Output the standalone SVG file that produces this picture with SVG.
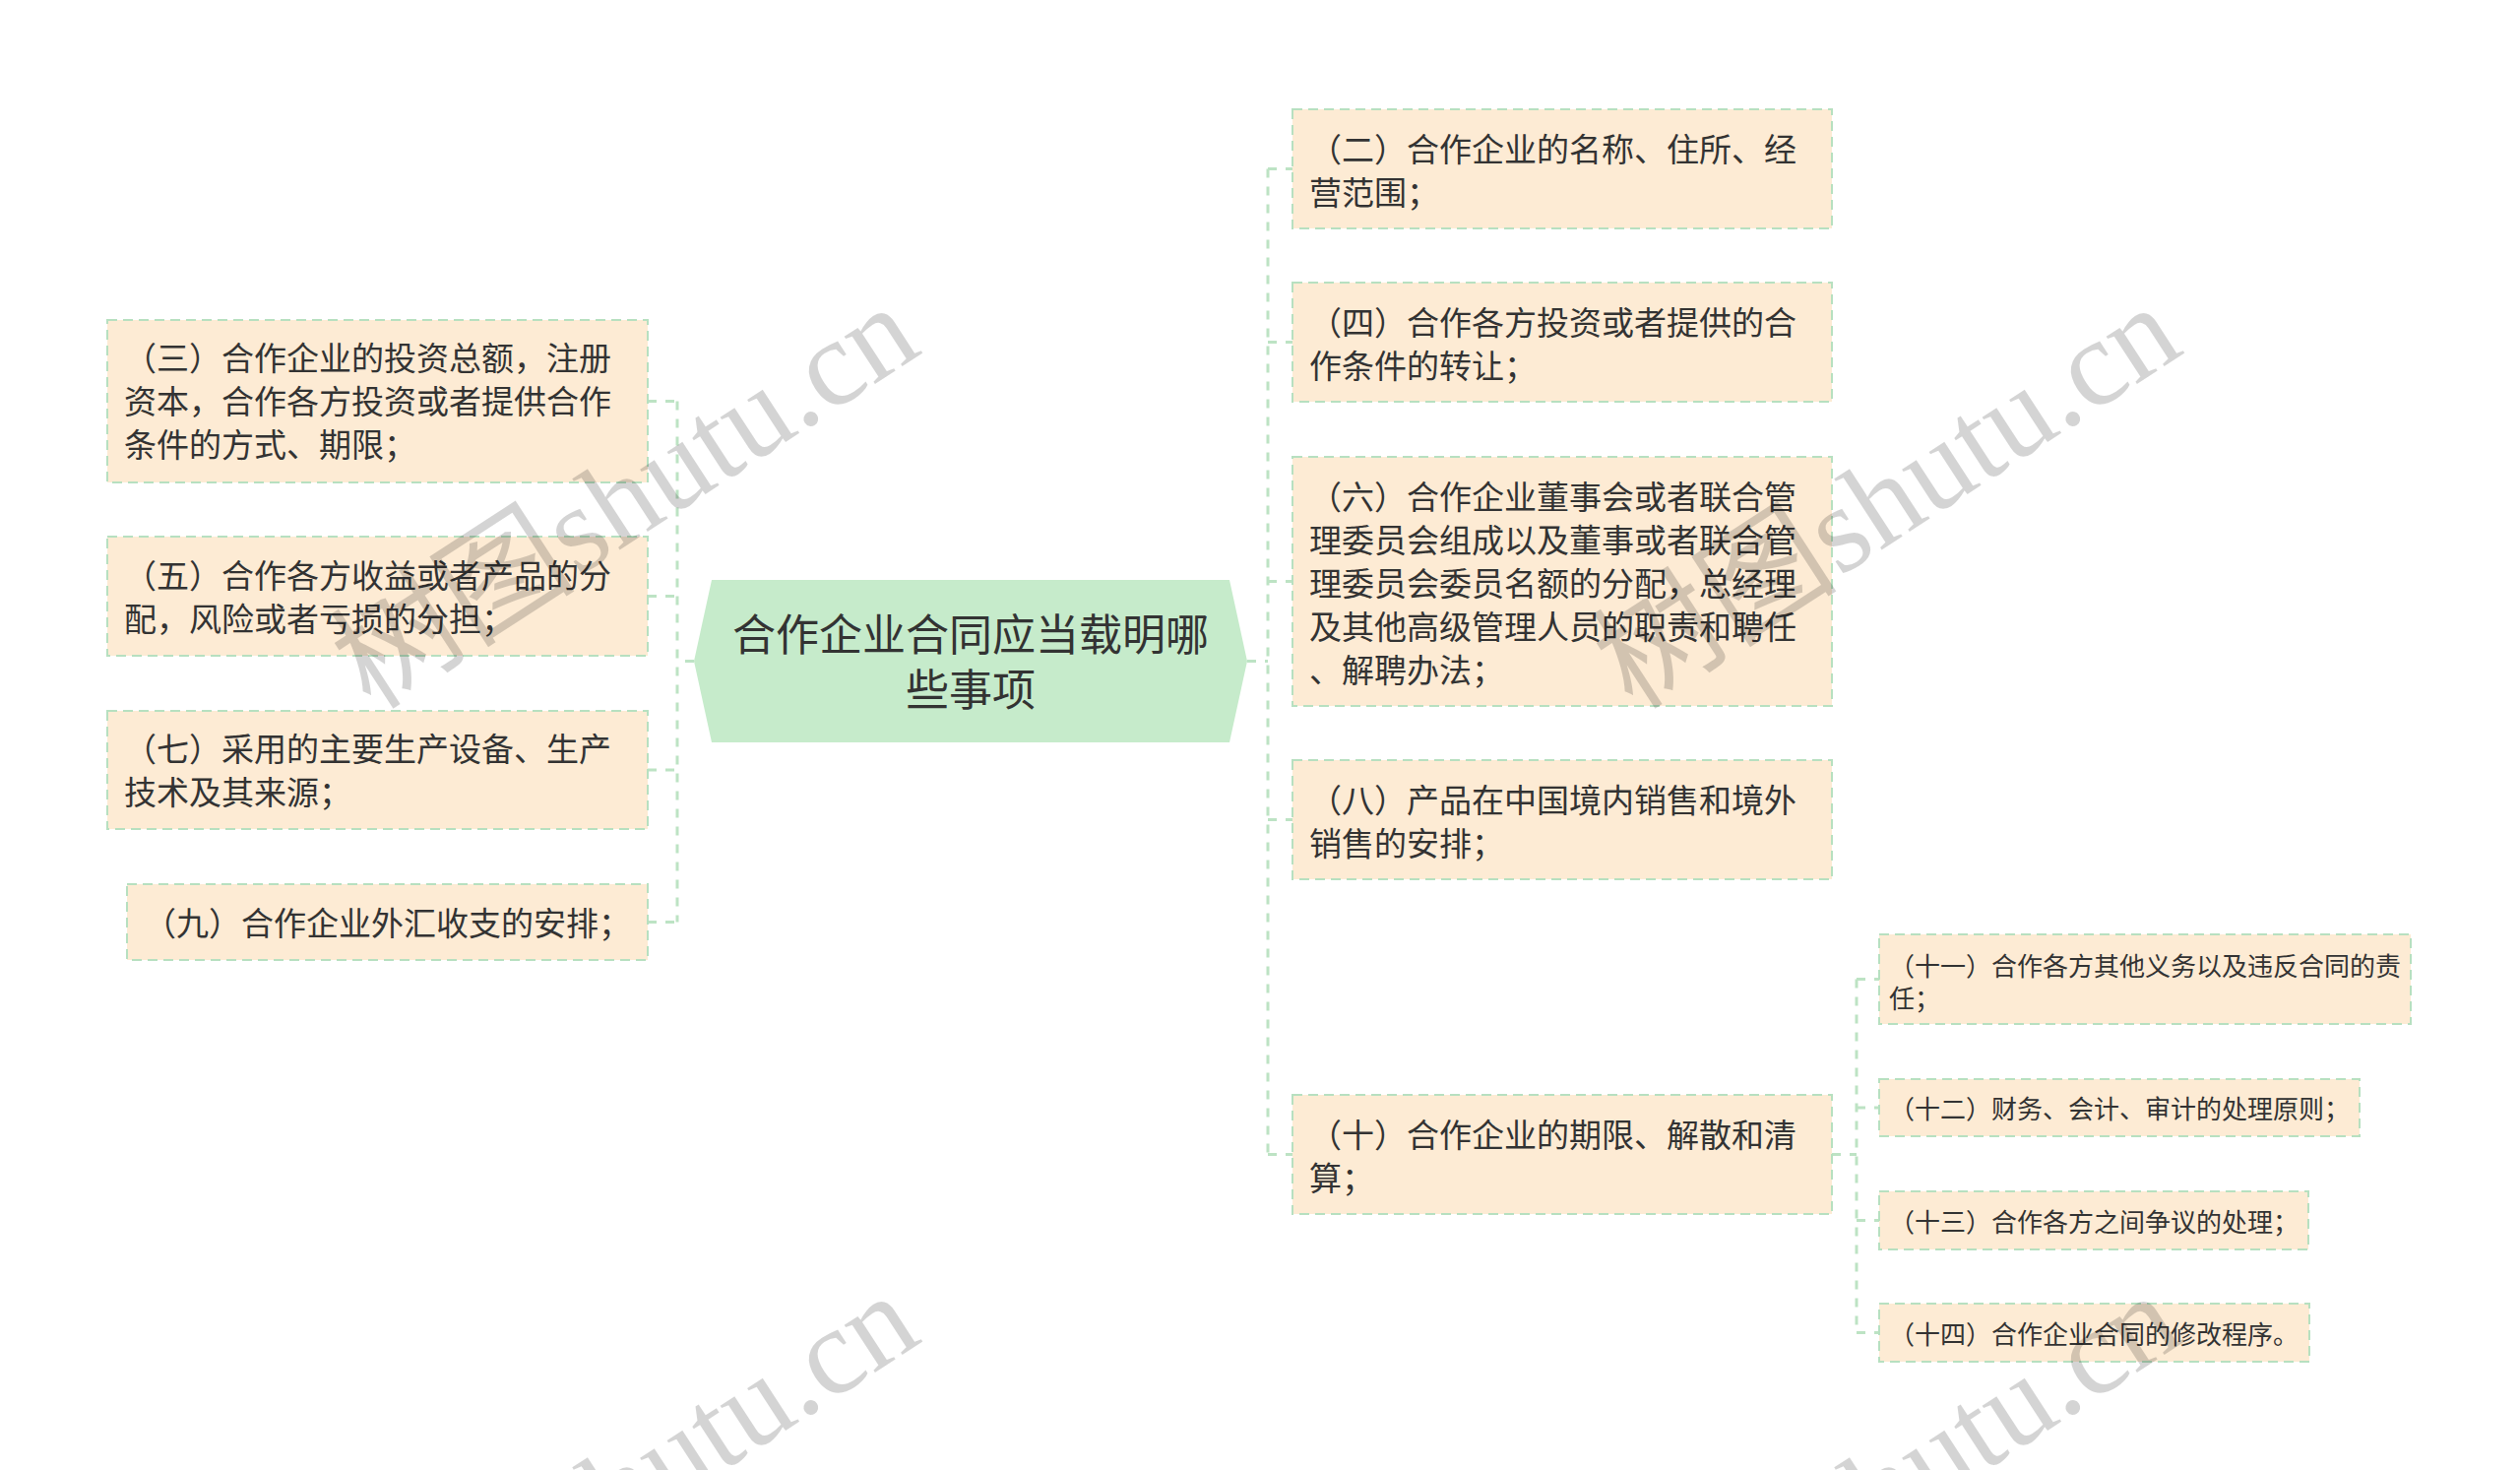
<svg xmlns="http://www.w3.org/2000/svg" width="2560" height="1493" viewBox="0 0 2560 1493">
<style>
.bg{fill:#ffffff}
.node rect{fill:#fdebd4;stroke:#b7e0c0;stroke-width:2;stroke-dasharray:10 6}
.root polygon{fill:#c6ebcb}
.t{font-family:"Noto Sans CJK SC","Noto Sans",sans-serif;fill:#333333}
.m{font-size:33px}
.s{font-size:26px}
.r{font-size:44px;text-anchor:middle}
.conn path{fill:none;stroke:#bde3c4;stroke-width:3;stroke-dasharray:9 9}
.wm{font-family:"Liberation Serif","Noto Sans CJK SC",serif;font-size:125px;fill:#000000;fill-opacity:0.17;text-anchor:middle}
</style>
<rect class="bg" x="0" y="0" width="2560" height="1493"/>

<g id="connectors" class="conn">
  <path d="M705 671.5H688M688 407.5V936.5M658 407.5H688M658 605.5H688M658 782H688M658 936.5H688"/>
  <path d="M1267 671.5H1288M1288 171.5V1172.5M1288 171.5H1313M1288 347.5H1313M1288 590.5H1313M1288 832.5H1313M1288 1172.5H1313"/>
  <path d="M1861 1172.5H1886M1886 994.5V1353.5M1886 994.5H1909M1886 1125H1909M1886 1239.5H1909M1886 1353.5H1909"/>
</g>

<g id="root" class="root">
  <polygon points="723,589 1249,589 1267,671.5 1249,754 723,754 705,671.5"/>
  <text class="t r"><tspan x="986" y="661">合作企业合同应当载明哪</tspan><tspan x="986" y="717">些事项</tspan></text>
</g>

<g id="n3" class="node">
  <rect x="109" y="325" width="549" height="165"/>
  <text class="t m" x="126" y="376">（三）合作企业的投资总额，注册</text>
  <text class="t m" x="126" y="420">资本，合作各方投资或者提供合作</text>
  <text class="t m" x="126" y="464">条件的方式、期限；</text>
</g>
<g id="n5" class="node">
  <rect x="109" y="545" width="549" height="121"/>
  <text class="t m" x="126" y="597">（五）合作各方收益或者产品的分</text>
  <text class="t m" x="126" y="641">配，风险或者亏损的分担；</text>
</g>
<g id="n7" class="node">
  <rect x="109" y="722" width="549" height="120"/>
  <text class="t m" x="126" y="773">（七）采用的主要生产设备、生产</text>
  <text class="t m" x="126" y="817">技术及其来源；</text>
</g>
<g id="n9" class="node">
  <rect x="129" y="898" width="529" height="77"/>
  <text class="t m" x="146" y="950">（九）合作企业外汇收支的安排；</text>
</g>

<g id="n2" class="node">
  <rect x="1313" y="111" width="548" height="121"/>
  <text class="t m" x="1330" y="164">（二）合作企业的名称、住所、经</text>
  <text class="t m" x="1330" y="208">营范围；</text>
</g>
<g id="n4" class="node">
  <rect x="1313" y="287" width="548" height="121"/>
  <text class="t m" x="1330" y="340">（四）合作各方投资或者提供的合</text>
  <text class="t m" x="1330" y="384">作条件的转让；</text>
</g>
<g id="n6" class="node">
  <rect x="1313" y="464" width="548" height="253"/>
  <text class="t m" x="1330" y="517">（六）合作企业董事会或者联合管</text>
  <text class="t m" x="1330" y="561">理委员会组成以及董事或者联合管</text>
  <text class="t m" x="1330" y="605">理委员会委员名额的分配，总经理</text>
  <text class="t m" x="1330" y="649">及其他高级管理人员的职责和聘任</text>
  <text class="t m" x="1330" y="693">、解聘办法；</text>
</g>
<g id="n8" class="node">
  <rect x="1313" y="772" width="548" height="121"/>
  <text class="t m" x="1330" y="825">（八）产品在中国境内销售和境外</text>
  <text class="t m" x="1330" y="869">销售的安排；</text>
</g>
<g id="n10" class="node">
  <rect x="1313" y="1112" width="548" height="121"/>
  <text class="t m" x="1330" y="1165">（十）合作企业的期限、解散和清</text>
  <text class="t m" x="1330" y="1209">算；</text>
</g>

<g id="n11" class="node">
  <rect x="1909" y="949" width="540" height="91"/>
  <text class="t s" x="1919" y="991">（十一）合作各方其他义务以及违反合同的责</text>
  <text class="t s" x="1919" y="1024">任；</text>
</g>
<g id="n12" class="node">
  <rect x="1909" y="1096" width="488" height="58"/>
  <text class="t s" x="1919" y="1136">（十二）财务、会计、审计的处理原则；</text>
</g>
<g id="n13" class="node">
  <rect x="1909" y="1210" width="436" height="59"/>
  <text class="t s" x="1919" y="1251">（十三）合作各方之间争议的处理；</text>
</g>
<g id="n14" class="node">
  <rect x="1909" y="1324" width="437" height="59"/>
  <text class="t s" x="1919" y="1365">（十四）合作企业合同的修改程序。</text>
</g>

<g id="watermarks">
  <text class="wm" transform="translate(658 540) rotate(-33)">树图shutu.cn</text>
  <text class="wm" transform="translate(1940 540) rotate(-33)">树图shutu.cn</text>
  <text class="wm" transform="translate(658 1544) rotate(-33)">树图shutu.cn</text>
  <text class="wm" transform="translate(1940 1544) rotate(-33)">树图shutu.cn</text>
</g>
</svg>
